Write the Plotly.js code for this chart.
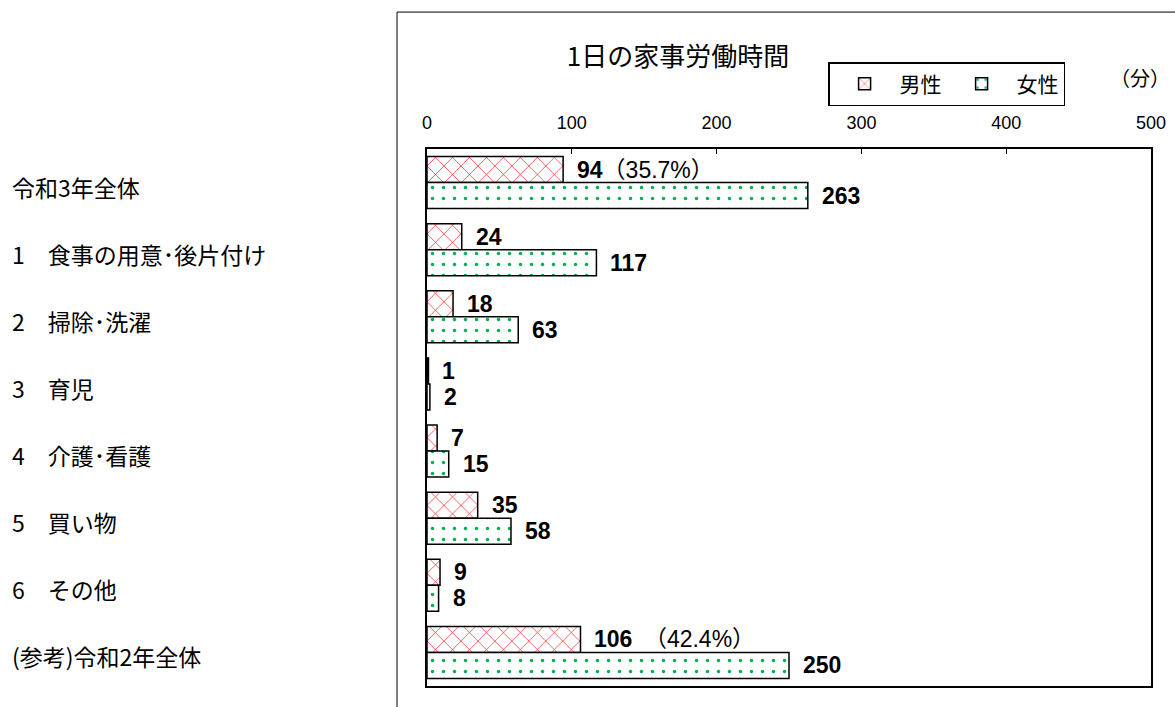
<!DOCTYPE html>
<html>
<head>
<meta charset="utf-8">
<script src="https://cdn.plot.ly/plotly-3.0.1.min.js"></script>
<style>html,body{margin:0;padding:0;background:#fff;}#chart{width:1175px;height:707px;}</style>
</head>
<body>
<div id="chart"></div>
<script>
const categories = ['令和3年全体','1　食事の用意･後片付け','2　掃除･洗濯','3　育児','4　介護･看護','5　買い物','6　その他','(参考)令和2年全体'];
const maleValues = [94, 24, 18, 1, 7, 35, 9, 106];
const femaleValues = [263, 117, 63, 2, 15, 58, 8, 250];
const malePctNotes = ['（35.7%）', '', '', '', '', '', '', '　（42.4%）'];
const xTickValues = [0, 100, 200, 300, 400, 500];
const seriesNames = ['男性', '女性'];

const JP = '"Noto Sans CJK JP", sans-serif';
const NUM = '"Liberation Sans", Arial, "Noto Sans CJK JP", sans-serif';

const traces = [
  {
    type: 'bar', orientation: 'h', name: seriesNames[0],
    y: categories, x: maleValues,
    marker: {color: '#ffffff', line: {color: '#000000', width: 1.5},
      pattern: {shape: 'x', fgcolor: '#ff0000', bgcolor: '#ffffff', size: 12, solidity: 0.1}},
    hoverinfo: 'skip'
  },
  {
    type: 'bar', orientation: 'h', name: seriesNames[1],
    y: categories, x: femaleValues,
    marker: {color: '#ffffff', line: {color: '#000000', width: 1.5},
      pattern: {shape: '.', fgcolor: '#00b050', bgcolor: '#ffffff', size: 11, solidity: 0.08}},
    hoverinfo: 'skip'
  }
];

const annotations = [];
categories.forEach((c, i) => {
  annotations.push({x: maleValues[i], y: c, xref: 'x', yref: 'y', xanchor: 'left', yanchor: 'middle',
    xshift: 12, yshift: 13, showarrow: false,
    text: '<b>' + maleValues[i] + '</b>' + malePctNotes[i],
    font: {family: NUM, size: 23, color: '#000'}});
  annotations.push({x: femaleValues[i], y: c, xref: 'x', yref: 'y', xanchor: 'left', yanchor: 'middle',
    xshift: 12, yshift: -13, showarrow: false,
    text: '<b>' + femaleValues[i] + '</b>',
    font: {family: NUM, size: 23, color: '#000'}});
  annotations.push({x: -0.576, xref: 'paper', y: c, yref: 'y', xanchor: 'left', yanchor: 'middle',
    yshift: -4, showarrow: false, text: c,
    font: {family: JP, size: 23, color: '#000'}});
});
annotations.push({x: 0.985, y: 1.134, xref: 'paper', yref: 'paper', xanchor: 'center', yanchor: 'middle',
  showarrow: false, text: '（分）', font: {family: JP, size: 20, color: '#000'}});

const layout = {
  width: 1175, height: 707,
  margin: {l: 427, r: 24, t: 149, b: 21},
  paper_bgcolor: '#ffffff', plot_bgcolor: '#ffffff',
  title: {text: '1日の家事労働時間', x: 0.577, xref: 'container', xanchor: 'center',
    y: 0.919, yref: 'container', yanchor: 'middle',
    font: {family: JP, size: 26, color: '#000'}},
  barmode: 'group', bargap: 0.225, bargroupgap: 0,
  xaxis: {side: 'top', range: [0, 500], tickvals: xTickValues, ticks: 'inside', ticklen: 5,
    tickcolor: '#000', showgrid: false, zeroline: false, showline: true, linecolor: '#000',
    linewidth: 2, mirror: true, ticklabelstandoff: 11,
    tickfont: {family: NUM, size: 18, color: '#000'}, fixedrange: true},
  yaxis: {autorange: 'reversed', showticklabels: false, ticks: '', showgrid: false,
    zeroline: false, showline: true, linecolor: '#000', linewidth: 2, mirror: true, fixedrange: true},
  showlegend: true,
  legend: {orientation: 'h', x: 0.554, y: 1.162, xanchor: 'left', yanchor: 'top',
    bordercolor: '#000', borderwidth: 1.5, bgcolor: '#fff',
    font: {family: JP, size: 21, color: '#000'}, traceorder: 'normal', itemwidth: 60},
  annotations: annotations,
  shapes: [
    {type: 'rect', xref: 'paper', yref: 'paper', x0: -0.0414, x1: 1.2, y0: -0.1, y1: 1.255,
      line: {color: '#000', width: 1}, fillcolor: 'rgba(0,0,0,0)', layer: 'below'}
  ]
};

Plotly.newPlot('chart', traces, layout, {displayModeBar: false, staticPlot: true});
</script>
</body>
</html>
